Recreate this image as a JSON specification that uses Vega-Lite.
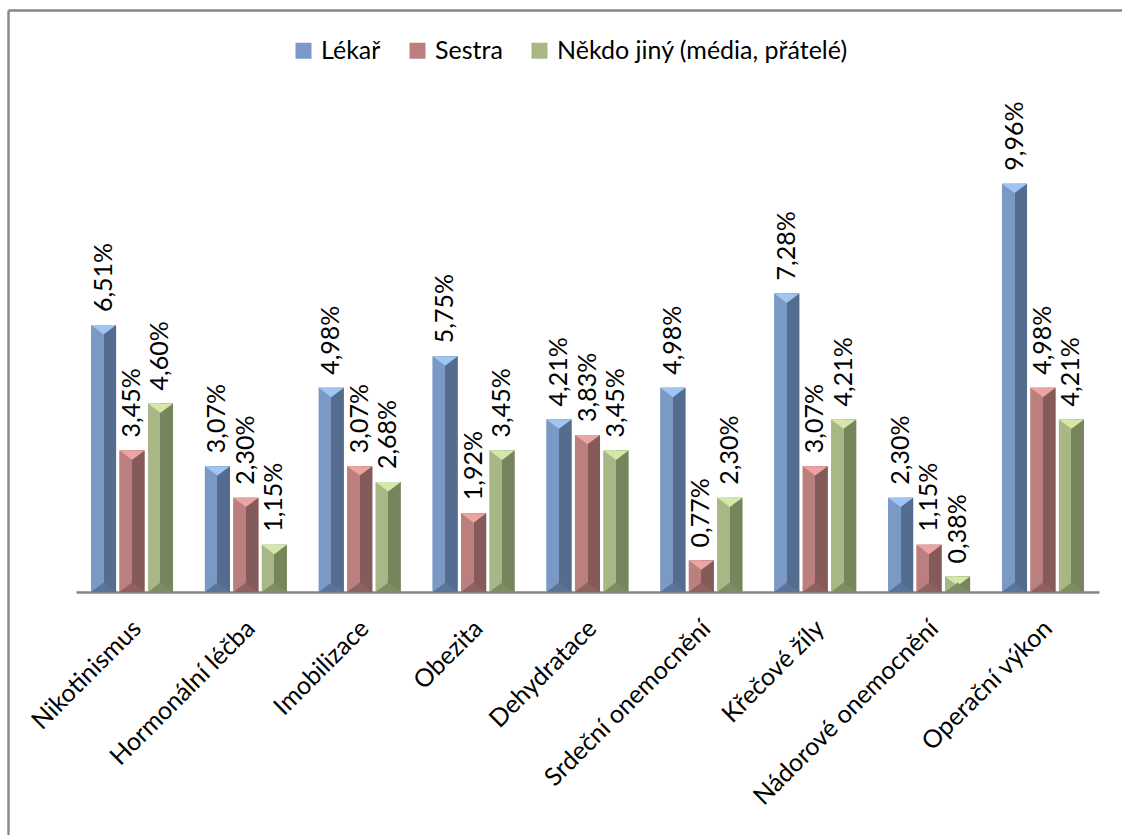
{
  "$schema": "https://vega.github.io/schema/vega-lite/v6.json",
  "autosize": "none",
  "padding": {"left": 8, "top": 10, "right": 0, "bottom": 0},
  "width": 1114,
  "height": 825,
  "background": "white",
  "view": {"stroke": null},
  "config": {
    "locale": {"number": {"decimal": ",", "thousands": "\u00a0", "grouping": [3], "currency": ["", "\u00a0Kč"]}},
    "font": "Lato"
  },
  "data": {
    "values": [
      {"nemoc": "Nikotinismus", "kdo": "Lékař", "podil": 0.0651},
      {"nemoc": "Nikotinismus", "kdo": "Sestra", "podil": 0.0345},
      {"nemoc": "Nikotinismus", "kdo": "Někdo jiný (média, přátelé)", "podil": 0.0460},
      {"nemoc": "Hormonální léčba", "kdo": "Lékař", "podil": 0.0307},
      {"nemoc": "Hormonální léčba", "kdo": "Sestra", "podil": 0.0230},
      {"nemoc": "Hormonální léčba", "kdo": "Někdo jiný (média, přátelé)", "podil": 0.0115},
      {"nemoc": "Imobilizace", "kdo": "Lékař", "podil": 0.0498},
      {"nemoc": "Imobilizace", "kdo": "Sestra", "podil": 0.0307},
      {"nemoc": "Imobilizace", "kdo": "Někdo jiný (média, přátelé)", "podil": 0.0268},
      {"nemoc": "Obezita", "kdo": "Lékař", "podil": 0.0575},
      {"nemoc": "Obezita", "kdo": "Sestra", "podil": 0.0192},
      {"nemoc": "Obezita", "kdo": "Někdo jiný (média, přátelé)", "podil": 0.0345},
      {"nemoc": "Dehydratace", "kdo": "Lékař", "podil": 0.0421},
      {"nemoc": "Dehydratace", "kdo": "Sestra", "podil": 0.0383},
      {"nemoc": "Dehydratace", "kdo": "Někdo jiný (média, přátelé)", "podil": 0.0345},
      {"nemoc": "Srdeční onemocnění", "kdo": "Lékař", "podil": 0.0498},
      {"nemoc": "Srdeční onemocnění", "kdo": "Sestra", "podil": 0.0077},
      {"nemoc": "Srdeční onemocnění", "kdo": "Někdo jiný (média, přátelé)", "podil": 0.0230},
      {"nemoc": "Křečové žíly", "kdo": "Lékař", "podil": 0.0728},
      {"nemoc": "Křečové žíly", "kdo": "Sestra", "podil": 0.0307},
      {"nemoc": "Křečové žíly", "kdo": "Někdo jiný (média, přátelé)", "podil": 0.0421},
      {"nemoc": "Nádorové onemocnění", "kdo": "Lékař", "podil": 0.0230},
      {"nemoc": "Nádorové onemocnění", "kdo": "Sestra", "podil": 0.0115},
      {"nemoc": "Nádorové onemocnění", "kdo": "Někdo jiný (média, přátelé)", "podil": 0.0038},
      {"nemoc": "Operační výkon", "kdo": "Lékař", "podil": 0.0996},
      {"nemoc": "Operační výkon", "kdo": "Sestra", "podil": 0.0498},
      {"nemoc": "Operační výkon", "kdo": "Někdo jiný (média, přátelé)", "podil": 0.0421}
    ]
  },
  "layer": [
    {
      "encoding": {
        "x": {
          "field": "nemoc", "type": "nominal", "sort": null,
          "scale": {"range": [68, 1091], "paddingInner": 0.28, "paddingOuter": 0.132},
          "axis": {
            "title": null, "orient": "bottom", "offset": -243,
            "domainColor": "#868686", "domainWidth": 2.5, "ticks": false, "grid": false,
            "labelAngle": -45, "labelAlign": "right", "labelBaseline": "middle",
            "labelPadding": 32, "labelOffset": 5, "labelFont": "Lato", "labelFontSize": 25,
            "labelColor": "#000000", "labelLimit": 0, "labelOverlap": false, "labelBound": false
          }
        },
        "xOffset": {
          "field": "kdo", "type": "nominal",
          "scale": {"domain": ["Lékař", "Sestra", "Někdo jiný (média, přátelé)"], "paddingInner": 0.12, "paddingOuter": 0}
        },
        "y": {
          "field": "podil", "type": "quantitative",
          "scale": {"domain": [0, 0.12], "range": [582, 90], "nice": false, "zero": true},
          "axis": null
        }
      },
      "layer": [
        {
          "mark": {"type": "bar", "strokeWidth": 0},
          "encoding": {
            "color": {
              "field": "kdo", "type": "nominal",
              "scale": {"domain": ["Lékař", "Sestra", "Někdo jiný (média, přátelé)"], "range": ["#7a9ac5", "#bb7f7d", "#a7b886"]},
              "legend": {
                "title": null, "orient": "none", "direction": "horizontal",
                "legendX": 283, "legendY": 28,
                "symbolType": "square", "symbolSize": 256, "symbolStrokeWidth": 0,
                "labelFont": "Lato", "labelFontSize": 25, "labelColor": "#000000",
                "labelOffset": 5, "columnPadding": 24, "labelLimit": 0
              }
            }
          }
        },
        {
          "mark": {"type": "bar", "strokeWidth": 0},
          "encoding": {
            "color": {
              "condition": [
                {"test": "datum.kdo === 'Lékař'", "value": {"gradient": "linear", "x1": 0, "y1": 0, "x2": 1, "y2": 0,
                  "stops": [{"offset": 0, "color": "#7a9ac5"}, {"offset": 0.5, "color": "#7a9ac5"}, {"offset": 0.5, "color": "#546d8e"}, {"offset": 1, "color": "#546d8e"}]}},
                {"test": "datum.kdo === 'Sestra'", "value": {"gradient": "linear", "x1": 0, "y1": 0, "x2": 1, "y2": 0,
                  "stops": [{"offset": 0, "color": "#bb7f7d"}, {"offset": 0.5, "color": "#bb7f7d"}, {"offset": 0.5, "color": "#855b5a"}, {"offset": 1, "color": "#855b5a"}]}}
              ],
              "value": {"gradient": "linear", "x1": 0, "y1": 0, "x2": 1, "y2": 0,
                "stops": [{"offset": 0, "color": "#a7b886"}, {"offset": 0.5, "color": "#a7b886"}, {"offset": 0.5, "color": "#76855c"}, {"offset": 1, "color": "#76855c"}]}
            }
          }
        },
        {
          "mark": {"type": "point", "shape": "M-1,0L1,0L0,0.75Z", "filled": true, "size": 628, "opacity": 1, "strokeWidth": 0},
          "encoding": {
            "color": {
              "condition": [
                {"test": "datum.kdo === 'Lékař'", "value": "#a1c5f2"},
                {"test": "datum.kdo === 'Sestra'", "value": "#eda3a2"}
              ],
              "value": "#d5e7a9"
            }
          }
        },
        {
          "mark": {"type": "point", "shape": "M-1,0L1,0L0,-0.75Z", "filled": true, "size": 628, "opacity": 1, "strokeWidth": 0},
          "encoding": {
            "y": {"datum": 0, "type": "quantitative"},
            "color": {
              "condition": [
                {"test": "datum.kdo === 'Lékař'", "value": "#5b7598"},
                {"test": "datum.kdo === 'Sestra'", "value": "#8d6261"}
              ],
              "value": "#7e8d63"
            }
          }
        },
        {
          "mark": {"type": "text", "angle": 270, "align": "left", "baseline": "middle", "dx": 13, "font": "Lato", "fontSize": 25, "color": "#000000"},
          "encoding": {
            "text": {"field": "podil", "type": "quantitative", "format": ".2%"}
          }
        }
      ]
    },
    {
      "mark": {"type": "point", "opacity": 0},
      "encoding": {
        "x": {
          "datum": 0, "type": "quantitative",
          "scale": {"domain": [0, 1], "range": [0, 1114], "nice": false},
          "axis": {"title": null, "orient": "top", "domain": true, "domainColor": "#868686", "domainWidth": 2.4, "ticks": false, "labels": false, "grid": false}
        },
        "y": {
          "datum": 0, "type": "quantitative",
          "scale": {"domain": [0, 1], "range": [825, 0], "nice": false},
          "axis": {"title": null, "orient": "left", "domain": true, "domainColor": "#868686", "domainWidth": 2.4, "ticks": false, "labels": false, "grid": false}
        }
      }
    }
  ],
  "resolve": {
    "scale": {"x": "independent", "y": "independent"},
    "axis": {"x": "independent", "y": "independent"}
  }
}
